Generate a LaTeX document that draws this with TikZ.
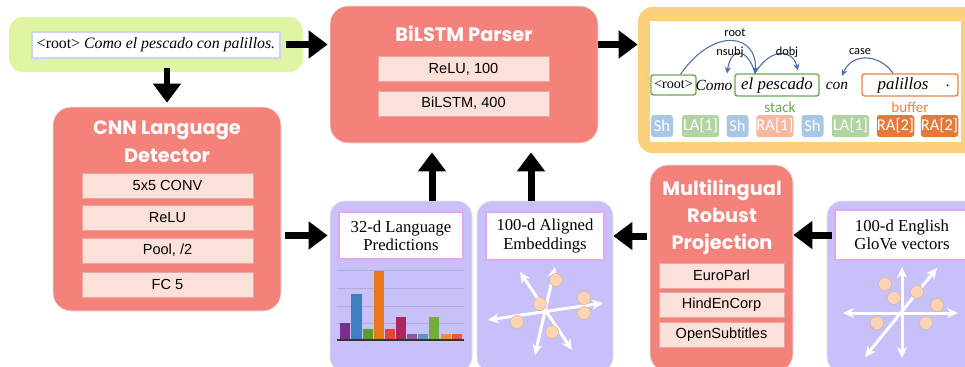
\documentclass[tikz,border=0pt]{standalone}
\usepackage{fontspec}
\setmainfont{Liberation Serif}
\setsansfont{Liberation Sans}
\newfontfamily\headfont{Poppins}
\newfontfamily\calfont{Carlito}
\usetikzlibrary{arrows.meta,fit}

\definecolor{inputgreen}{HTML}{E0F5A4}
\definecolor{inputedge}{HTML}{C9D5F7}
\definecolor{redbox}{HTML}{F4817A}
\definecolor{layerfill}{HTML}{FCE1DB}
\definecolor{layeredge}{HTML}{E3A9A1}
\definecolor{parsebox}{HTML}{FDD07E}
\definecolor{lilac}{HTML}{C8C1F9}
\definecolor{labeledge}{HTML}{E3A6F5}
\definecolor{peach}{HTML}{FCD4B3}
\definecolor{arcblue}{HTML}{4A6EA8}
\definecolor{shblue}{HTML}{A8C7E6}
\definecolor{lagreen}{HTML}{B2D4A3}
\definecolor{ralight}{HTML}{F5B8A0}
\definecolor{radark}{HTML}{E4793A}
\definecolor{stackgreen}{HTML}{6BAA4F}
\definecolor{bufforange}{HTML}{EA8340}
\definecolor{gridlilac}{HTML}{B4ACD8}
\definecolor{barA}{HTML}{7B2D8B}
\definecolor{barB}{HTML}{3F7FBF}
\definecolor{barC}{HTML}{5A9E2A}
\definecolor{barD}{HTML}{E8771E}
\definecolor{barE}{HTML}{E0463C}
\definecolor{barF}{HTML}{B0245F}
\definecolor{barG}{HTML}{9A4FA8}
\definecolor{barH}{HTML}{5E93CC}
\definecolor{barI}{HTML}{72AD3A}
\definecolor{barJ}{HTML}{F08C3A}
\definecolor{barK}{HTML}{E35848}

\begin{document}
\begin{tikzpicture}[x=0.02cm, y=-0.02cm,
    bigbox/.style={rounded corners=0.36cm, inner sep=0pt, draw=black!10},
    layerbox/.style={fill=layerfill, draw=layeredge, line width=0.4pt, inner sep=0pt,
        minimum height=0.5cm, font=\sffamily\fontsize{8.3}{9}\selectfont},
    hdr/.style={text=white, align=center, inner sep=0pt,
        font=\headfont\bfseries\fontsize{11}{15.4}\selectfont},
    tagbox/.style={fill=white, draw=labeledge, line width=0.9pt, inner sep=0pt,
        align=center, font=\fontsize{9.5}{10.4}\selectfont},
    wordbox/.style={fill=white, line width=0.8pt, rounded corners=0.05cm, inner sep=0pt},
    word/.style={inner sep=0pt, font=\itshape\fontsize{8.8}{9}\selectfont},
    deplabel/.style={inner sep=0pt, font=\calfont\fontsize{7}{7}\selectfont},
    dep/.style={arcblue, line width=0.6pt, -{Stealth[length=0.13cm, width=0.12cm]}},
    actbox/.style={rounded corners=0.06cm, inner sep=0pt, text=white, minimum height=0.44cm,
        minimum width=0.75cm, font=\calfont\fontsize{9.4}{10}\selectfont},
    bigarrow/.style={line width=0.14cm, -{Triangle[length=0.38cm, width=0.54cm]}},
    axis/.style={white, line width=0.06cm,
        {Stealth[length=0.22cm, width=0.2cm]}-{Stealth[length=0.22cm, width=0.2cm]}},
    blob/.style={circle, fill=peach, draw=peach!85!black, line width=0.3pt,
        minimum size=0.26cm, inner sep=0pt}]
\useasboundingbox (0,0) rectangle (965,366);
\clip (0,0) rectangle (965,366);

% sentence
\node[fit={(9,17) (303,72)}, fill=inputgreen, rounded corners=0.28cm, inner sep=0pt] (input) {};
\node[fill=white, draw=inputedge, line width=0.8pt, minimum width=4.96cm, minimum height=0.52cm,
    inner sep=0pt, font=\fontsize{9}{10}\selectfont] (sentence) at (156,45)
    {<root> \textit{Como el pescado con palillos.}};

% parser
\node[bigbox, fill=redbox, fit={(330,6) (598,143)}] (parser) {};
\node[hdr] (parsertitle) at (464,34) {BiLSTM Parser};
\node[layerbox, minimum width=3.42cm] (relu1) at (463.5,69) {ReLU, 100};
\node[layerbox, minimum width=3.42cm] (bilstm) at (463.5,103.5) {BiLSTM, 400};

% parse state
\node[fit={(638,7) (980,153)}, fill=parsebox, rounded corners=0.3cm, inner sep=0pt] (parse) {};
\node[fit={(650,21) (961,142)}, fill=white, inner sep=0pt] (parsefig) {};
\node[wordbox, draw=stackgreen, minimum width=0.9cm, minimum height=0.4cm,
    font=\fontsize{8}{9}\selectfont] (rootw) at (673.5,85) {<root>};
\node[word] (como) at (714,85) {Como};
\node[wordbox, draw=stackgreen, minimum width=1.68cm, minimum height=0.44cm,
    font=\itshape\fontsize{9.6}{10}\selectfont] (pescado) at (777,85) {el pescado};
\node[word] (con) at (837,86) {con};
\node[wordbox, draw=bufforange, fit={(862,74) (958,96)}] (palbox) {};
\node[word, font=\itshape\fontsize{9.6}{10}\selectfont] (palillos) at (903,85) {palillos};
\node[word] (stop) at (948,86) {.};

\coordinate (pesc) at ([xshift=-0.44cm]pescado.north);
\draw[dep] ([xshift=0.14cm]rootw.north) .. controls (715,25) and (758,35) .. (pesc);
\draw[dep] (pesc) .. controls (748,48) and (731,46) .. ([xshift=0.26cm, yshift=0.12cm]como.north);
\draw[dep] (pesc) .. controls (770,48) and (792,48) .. ([xshift=0.42cm, yshift=0.06cm]pescado.north);
\draw[dep] ([xshift=-0.34cm]palbox.north) .. controls (880,54) and (852,52) .. ([xshift=0.1cm, yshift=0.12cm]con.north);
\node[deplabel] (rootlab) at (735,33) {root};
\node[deplabel] (nsubjlab) at (730,52) {nsubj};
\node[deplabel] (dobjlab) at (787,52) {dobj};
\node[deplabel] (caselab) at (860,52) {case};

\node[inner sep=0pt, text=stackgreen, font=\calfont\fontsize{8.6}{9}\selectfont] (stack) at (780,107) {stack};
\node[inner sep=0pt, text=bufforange, font=\calfont\fontsize{8.6}{9}\selectfont] (buffer) at (910,107) {buffer};

\node[actbox, fill=shblue, minimum width=0.44cm] (sh1) at (662,126) {Sh};
\node[actbox, fill=lagreen] (la1) at (700.5,126) {LA[1]};
\node[actbox, fill=shblue, minimum width=0.44cm] (sh2) at (737.5,126) {Sh};
\node[actbox, fill=ralight] (ra1) at (775,126) {RA[1]};
\node[actbox, fill=shblue, minimum width=0.44cm] (sh3) at (812.5,126) {Sh};
\node[actbox, fill=lagreen] (la2) at (850.5,126) {LA[1]};
\node[actbox, fill=radark] (ra2) at (895.5,126) {RA[2]};
\node[actbox, fill=radark] (ra3) at (939.5,126) {RA[2]};

% language detector
\node[bigbox, fill=redbox, fit={(53,107) (281,311)}] (cnn) {};
\node[hdr, font=\headfont\bfseries\fontsize{11}{15.9}\selectfont] (cnntitle) at (167,142) {CNN Language\\Detector};
\node[layerbox, minimum width=3.42cm] (conv) at (167.5,185.5) {5x5 CONV};
\node[layerbox, minimum width=3.42cm] (relu2) at (167.5,217.5) {ReLU};
\node[layerbox, minimum width=3.42cm] (pool) at (167.5,250.5) {Pool, /2};
\node[layerbox, minimum width=3.42cm] (fc) at (167.5,284.5) {FC 5};

% language predictions
\node[bigbox, fill=lilac, rounded corners=0.3cm, fit={(330,201) (472,372)}] (langpred) {};
\node[tagbox, minimum width=2.48cm, minimum height=0.94cm] (langtag) at (401,235.5) {32-d Language\\Predictions};
\draw[gridlilac, line width=0.5pt] (337,270) -- (464,270) (337,288) -- (464,288)
    (337,306) -- (464,306) (337,323) -- (464,323);
\fill[barA] (340,323) rectangle (350,340);
\fill[barB] (351,294) rectangle (362,340);
\fill[barC] (363,329) rectangle (373,340);
\fill[barD] (374,271) rectangle (384,340);
\fill[barE] (385,329) rectangle (395,340);
\fill[barF] (396,317) rectangle (406,340);
\fill[barG] (407,334) rectangle (417,340);
\fill[barH] (418,334) rectangle (428,340);
\fill[barI] (429,317) rectangle (439,340);
\fill[barJ] (441,334) rectangle (451,340);
\fill[barK] (452,334) rectangle (462,340);
\draw[black!80, line width=0.6pt] (337,340) -- (464,340);

% aligned embeddings
\node[bigbox, fill=lilac, rounded corners=0.3cm, fit={(477,201) (613,372)}] (aligned) {};
\node[tagbox, minimum width=2.36cm, minimum height=0.96cm] (alignedtag) at (545,236) {100-d Aligned\\Embeddings};
\draw[axis] (488,320) -- (603,303);
\draw[axis] (520,272) -- (572,350);
\draw[axis] (555,267) -- (535,355);
\node[blob] (e1) at (556,280) {};
\node[blob] (e2) at (540,304) {};
\node[blob] (e3) at (584,298) {};
\node[blob] (e4) at (584,313) {};
\node[blob] (e5) at (517,322) {};
\node[blob] (e6) at (552,332) {};

% projection
\node[bigbox, fill=redbox, fit={(650,165) (793,372)}] (proj) {};
\node[hdr] (projtitle) at (722,217) {Multilingual\\Robust\\Projection};
\node[layerbox, minimum width=2.5cm] (europarl) at (721.5,275.5) {EuroParl};
\node[layerbox, minimum width=2.5cm] (hindencorp) at (721.5,304.5) {HindEnCorp};
\node[layerbox, minimum width=2.5cm] (opensub) at (721.5,334.5) {OpenSubtitles};

% glove
\node[bigbox, fill=lilac, rounded corners=0.3cm, fit={(827,201) (990,372)}] (glove) {};
\node[tagbox, minimum width=2.68cm, minimum height=1.0cm] (glovetag) at (902,235) {100-d English\\GloVe vectors};
\draw[axis] (902,267) -- (902,358);
\draw[axis] (843,313) -- (958,313);
\draw[axis] (865,357) -- (937,268);
\node[blob] (g1) at (885,284) {};
\node[blob] (g2) at (894,298) {};
\node[blob] (g3) at (917,292) {};
\node[blob] (g4) at (937,305) {};
\node[blob] (g5) at (877,323) {};
\node[blob] (g6) at (926,323) {};

% arrows
\coordinate (upA) at (432,0);
\coordinate (upB) at (531,0);
\draw[bigarrow, shorten <=-0.34cm, shorten >=0.04cm] (input.east) -- (input.east -| parser.west);
\draw[bigarrow] (parser.east |- input.east) -- (input.east -| parse.west);
\draw[bigarrow, shorten <=-0.08cm, shorten >=0.08cm] (input.south -| cnn.north) -- (cnn.north);
\draw[bigarrow, shorten <=0.08cm, shorten >=0.04cm] (langtag.west -| cnn.east) -- (langtag.west -| langpred.west);
\draw[bigarrow, shorten >=0.18cm] (langpred.north -| upA) -- (parser.south -| upA);
\draw[bigarrow, shorten >=0.18cm] (aligned.north -| upB) -- (parser.south -| upB);
\draw[bigarrow, shorten <=0.06cm] (alignedtag.east -| proj.west) -- (alignedtag.east -| aligned.east);
\draw[bigarrow, shorten <=-0.1cm] (glovetag.west -| glove.west) -- (glovetag.west -| proj.east);
\end{tikzpicture}
\end{document}
